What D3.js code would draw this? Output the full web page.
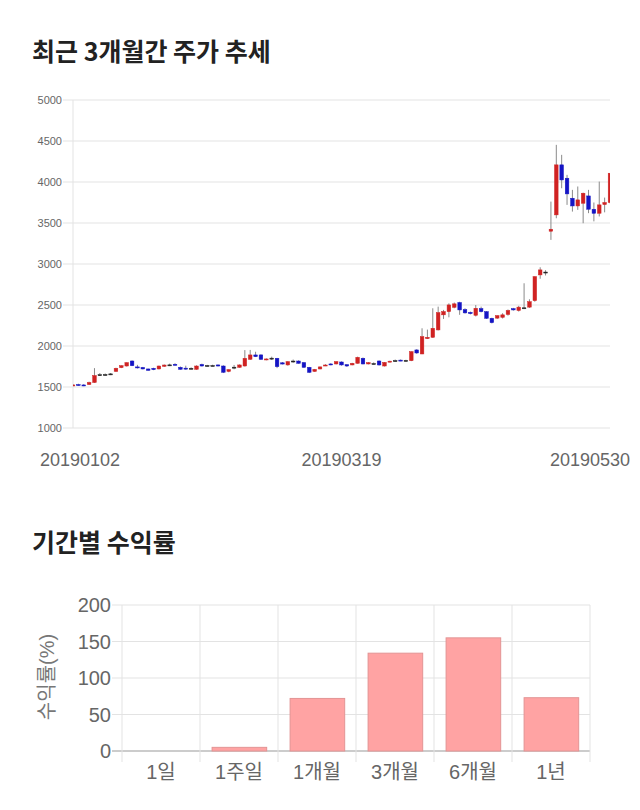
<!DOCTYPE html>
<html>
<head>
<meta charset="utf-8">
<script src="https://cdn.jsdelivr.net/npm/d3@7"></script>
<style>
  body { margin: 0; background: #fff; }
  text { font-family: "Liberation Sans", "Noto Sans CJK KR", sans-serif; }
</style>
</head>
<body>
<div id="chart"></div>
<script>
// trading days shown on the price chart
const dates = [
  "20190102","20190103","20190104","20190107","20190108","20190109","20190110","20190111","20190114","20190115",
  "20190116","20190117","20190118","20190121","20190122","20190123","20190124","20190125","20190128","20190129",
  "20190130","20190131","20190201","20190207","20190208","20190211","20190212","20190213","20190214","20190215",
  "20190218","20190219","20190220","20190221","20190222","20190225","20190226","20190227","20190228","20190304",
  "20190305","20190306","20190307","20190308","20190311","20190312","20190313","20190314","20190315","20190318",
  "20190319","20190320","20190321","20190322","20190325","20190326","20190327","20190328","20190329","20190401",
  "20190402","20190403","20190404","20190405","20190408","20190409","20190410","20190411","20190412","20190415",
  "20190416","20190417","20190418","20190419","20190422","20190423","20190424","20190425","20190426","20190429",
  "20190430","20190502","20190503","20190507","20190508","20190509","20190510","20190513","20190514","20190515",
  "20190516","20190517","20190520","20190521","20190522","20190523","20190524","20190527","20190528","20190529",
  "20190530"
];
const opens = [
  1515,1530,1525,1530,1555,1650,1650,1655,1690,1736,
  1756,1817,1745,1738,1720,1728,1720,1752,1766,1777,
  1740,1730,1725,1716,1775,1760,1762,1769,1756,1690,
  1738,1740,1756,1838,1891,1891,1830,1848,1850,1795,
  1769,1815,1817,1797,1740,1690,1720,1762,1781,1781,
  1805,1772,1769,1789,1850,1781,1784,1817,1756,1805,
  1818,1828,1820,1821,1952,1903,2090,2106,2196,2380,
  2419,2472,2530,2444,2410,2375,2456,2419,2338,2340,
  2350,2385,2455,2433,2463,2474,2553,2867,2898,3400,
  3599,4209,4046,3802,3708,3741,3830,3668,3619,3725,
  3750
];
const highs = [
  1535,1540,1535,1565,1730,1670,1665,1670,1735,1765,
  1800,1825,1770,1745,1725,1735,1760,1775,1785,1790,
  1750,1760,1740,1765,1785,1770,1772,1775,1765,1715,
  1769,1775,1950,1952,1930,1900,1850,1870,1855,1805,
  1815,1835,1825,1805,1745,1720,1750,1780,1790,1815,
  1812,1780,1795,1870,1860,1805,1800,1825,1805,1820,
  1835,1835,1832,1935,1960,2216,2200,2460,2480,2440,
  2520,2530,2540,2460,2420,2500,2480,2425,2345,2375,
  2400,2445,2465,2490,2765,2570,2850,2960,2925,3761,
  4453,4331,4087,3904,3945,3870,3904,3750,4005,3810,
  4110
];
const lows = [
  1510,1515,1510,1525,1550,1640,1640,1645,1685,1730,
  1750,1755,1725,1715,1700,1705,1715,1745,1755,1760,
  1710,1710,1715,1710,1750,1750,1752,1750,1670,1680,
  1716,1735,1750,1830,1865,1830,1825,1830,1730,1775,
  1760,1795,1785,1735,1670,1685,1715,1755,1765,1775,
  1760,1745,1765,1785,1775,1775,1775,1760,1750,1800,
  1810,1815,1812,1815,1905,1900,2085,2100,2190,2330,
  2350,2460,2380,2395,2385,2360,2410,2330,2275,2330,
  2335,2370,2430,2420,2450,2465,2540,2820,2860,3294,
  3558,3924,3721,3639,3660,3497,3620,3520,3580,3630,
  3740
];
const closes = [
  1525,1520,1515,1555,1640,1650,1652,1660,1728,1760,
  1797,1760,1738,1720,1703,1712,1756,1768,1770,1765,
  1716,1722,1728,1756,1756,1762,1760,1756,1680,1712,
  1742,1769,1850,1891,1870,1838,1842,1852,1748,1780,
  1809,1817,1789,1740,1679,1715,1745,1768,1769,1809,
  1769,1756,1789,1862,1781,1797,1786,1769,1800,1815,
  1822,1818,1824,1931,1915,2114,2106,2216,2407,2420,
  2501,2514,2440,2404,2395,2460,2419,2338,2285,2370,
  2380,2433,2440,2474,2466,2540,2846,2928,2902,3424,
  4209,4025,3855,3708,3782,3863,3668,3619,3721,3750,
  4107
];
const priceTicks = [1000, 1500, 2000, 2500, 3000, 3500, 4000, 4500, 5000];
const dateLabels = ["20190102", "20190319", "20190530"];

// period returns
const periods = ["1일", "1주일", "1개월", "3개월", "6개월", "1년"];
const returns = [0, 5, 72, 134, 155, 73];
const returnTicks = [0, 50, 100, 150, 200];

const W = 640, H = 810;
const svg = d3.select("#chart").append("svg").attr("width", W).attr("height", H);

// titles
svg.append("text").attr("x", 32).attr("y", 61)
  .attr("font-size", "25px").attr("font-weight", "bold").attr("fill", "#222")
  .style("font-family", "'Noto Sans CJK KR', sans-serif")
  .text("최근 3개월간 주가 추세");
svg.append("text").attr("x", 32).attr("y", 552)
  .attr("font-size", "25px").attr("font-weight", "bold").attr("fill", "#222")
  .style("font-family", "'Noto Sans CJK KR', sans-serif")
  .text("기간별 수익률");

// ---- price chart ----
const p = { left: 73, right: 610, top: 100, bottom: 428 };
const y = d3.scaleLinear().domain([1000, 5000]).range([p.bottom, p.top]);
const x = d3.scalePoint().domain(dates).range([p.left, p.right]);

svg.append("g").selectAll("line").data(priceTicks).enter().append("line")
  .attr("x1", p.left - 10).attr("x2", p.right)
  .attr("y1", d => y(d)).attr("y2", d => y(d))
  .attr("stroke", "#e3e3e3").attr("stroke-width", 1);
svg.append("line").attr("x1", p.left).attr("x2", p.left)
  .attr("y1", p.top).attr("y2", p.bottom).attr("stroke", "#e3e3e3");

svg.append("g").selectAll("text").data(priceTicks).enter().append("text")
  .attr("x", p.left - 11).attr("y", d => y(d)).attr("dy", "0.35em")
  .attr("text-anchor", "end").attr("font-size", "11px").attr("fill", "#666")
  .text(d => d);

svg.append("g").selectAll("text").data(dateLabels).enter().append("text")
  .attr("x", d => Math.max(80, Math.min(590, x(d))))
  .attr("y", 466).attr("text-anchor", "middle")
  .attr("font-size", "18px").attr("fill", "#666")
  .text(d => d);

svg.append("clipPath").attr("id", "plotClip").append("rect")
  .attr("x", p.left).attr("y", p.top)
  .attr("width", p.right - p.left).attr("height", p.bottom - p.top);

const candles = svg.append("g").attr("clip-path", "url(#plotClip)");
const idx = d3.range(dates.length);
const bodyW = 3.6;
const colorOf = i => Math.abs(closes[i] - opens[i]) < 6 ? "#222"
  : (closes[i] >= opens[i] ? "#d02222" : "#1414c4");

candles.selectAll("line.wick").data(idx).enter().append("line")
  .attr("class", "wick")
  .attr("x1", i => x(dates[i])).attr("x2", i => x(dates[i]))
  .attr("y1", i => y(highs[i])).attr("y2", i => y(lows[i]))
  .attr("stroke", "#8a8a8a").attr("stroke-width", 1);

candles.selectAll("rect.body").data(idx).enter().append("rect")
  .attr("class", "body")
  .attr("x", i => x(dates[i]) - bodyW / 2)
  .attr("y", i => y(Math.max(opens[i], closes[i])))
  .attr("width", bodyW)
  .attr("height", i => Math.max(1, Math.abs(y(opens[i]) - y(closes[i]))))
  .attr("fill", colorOf)
  .attr("stroke", colorOf).attr("stroke-width", 0.5);

// ---- returns chart ----
const b = { left: 122, right: 590, top: 605, bottom: 751 };
const ry = d3.scaleLinear().domain([0, 200]).range([b.bottom, b.top]);
const rx = d3.scaleBand().domain(periods).range([b.left, b.right]).padding(0);

svg.append("g").selectAll("line").data(returnTicks).enter().append("line")
  .attr("x1", b.left - 10).attr("x2", b.right)
  .attr("y1", d => ry(d)).attr("y2", d => ry(d))
  .attr("stroke", d => d === 0 ? "#999" : "#e3e3e3").attr("stroke-width", 1);

const edges = periods.map(d => rx(d)).concat([b.right]);
svg.append("g").selectAll("line").data(edges).enter().append("line")
  .attr("x1", d => d).attr("x2", d => d)
  .attr("y1", b.top).attr("y2", b.bottom + 11)
  .attr("stroke", "#e3e3e3").attr("stroke-width", 1);

svg.append("g").selectAll("rect").data(periods).enter().append("rect")
  .attr("x", d => rx(d) + rx.bandwidth() * 0.155)
  .attr("width", rx.bandwidth() * 0.7)
  .attr("y", (d, i) => ry(returns[i]))
  .attr("height", (d, i) => ry(0) - ry(returns[i]))
  .attr("fill", "#ffa3a3").attr("stroke", "#e39494").attr("stroke-width", 1);

svg.append("g").selectAll("text").data(returnTicks).enter().append("text")
  .attr("x", b.left - 11).attr("y", d => ry(d)).attr("dy", "0.35em")
  .attr("text-anchor", "end").attr("font-size", "20px").attr("fill", "#666")
  .text(d => d);

svg.append("g").selectAll("text").data(periods).enter().append("text")
  .attr("x", d => rx(d) + rx.bandwidth() / 2).attr("y", 779)
  .attr("text-anchor", "middle").attr("font-size", "20px").attr("fill", "#666")
  .text(d => d);

svg.append("text")
  .attr("transform", "translate(54,677) rotate(-90)")
  .attr("text-anchor", "middle").attr("font-size", "20px").attr("fill", "#777")
  .text("수익률(%)");
</script>
</body>
</html>
